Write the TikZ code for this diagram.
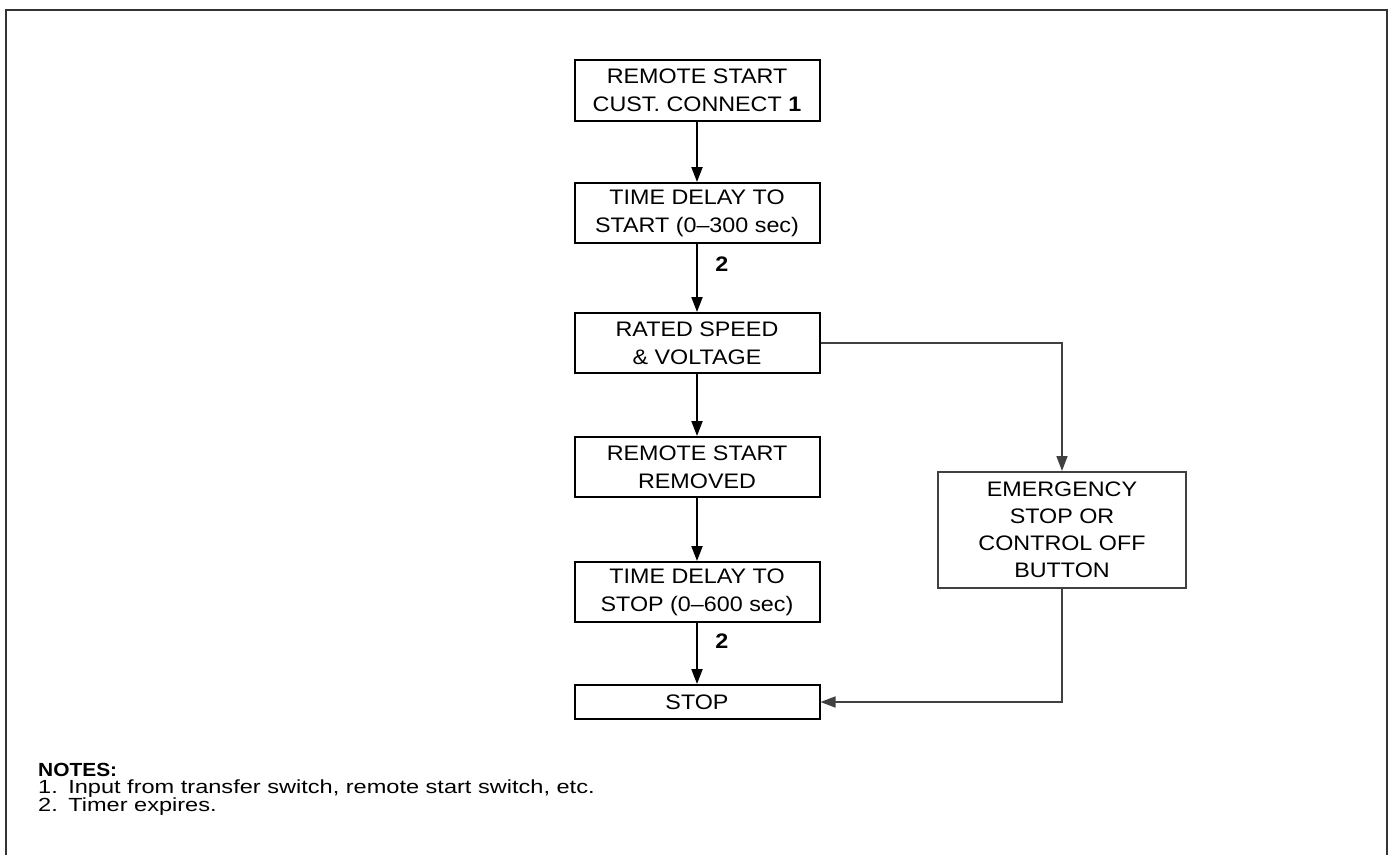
\documentclass[tikz,border=0pt]{standalone}
\usepackage{fontspec}
\setmainfont{Liberation Sans}
\newfontfamily\boxfont[FakeStretch=1.11,Ligatures=TeX]{Liberation Sans}
\newfontfamily\notefont[FakeStretch=1.24,Ligatures=TeX]{Liberation Sans}
\newfontfamily\headfont[FakeStretch=1.1,Ligatures=TeX]{Liberation Sans}
\usetikzlibrary{arrows.meta}
\begin{document}
\begin{tikzpicture}[x=1pt,y=-1pt,
  box/.style={draw=black,line width=2pt,minimum width=245pt,align=center,inner sep=0pt,font=\boxfont\fontsize{21}{28}\selectfont},
  ebox/.style={draw=black!75,line width=2pt,minimum width=248pt,minimum height=116pt,align=center,inner sep=0pt,font=\boxfont\fontsize{21}{27}\selectfont},
  flow/.style={line width=2pt,-{Triangle[length=15pt,width=11pt]}},
  side/.style={line width=1.6pt,draw=black!75,-{Triangle[length=15pt,width=11pt]}},
  lbl/.style={font=\boxfont\bfseries\fontsize{21}{24}\selectfont},
  note/.style={anchor=west,font=\notefont\fontsize{19}{22}\selectfont,inner sep=0pt}]
\useasboundingbox (0,0) rectangle (1392,855);
% frame
\draw[line width=2pt,black!80] (6,855) -- (6,10) -- (1387,10) -- (1387,855);
% main column
\node[box,minimum height=61pt] (b1) at (697,90.5) {REMOTE START\\CUST. CONNECT \textbf{1}};
\node[box,minimum height=60pt] (b2) at (697,213) {TIME DELAY TO\\START (0--300 sec)};
\node[box,minimum height=60pt] (b3) at (697,343) {RATED SPEED\\\& VOLTAGE};
\node[box,minimum height=60pt] (b4) at (697,467) {REMOTE START\\REMOVED};
\node[box,minimum height=60pt] (b5) at (697,592) {TIME DELAY TO\\STOP (0--600 sec)};
\node[box,minimum height=34pt] (b6) at (697,702) {STOP};
\node[ebox] (em) at (1062,530) {EMERGENCY\\STOP OR\\CONTROL OFF\\BUTTON};
\coordinate (c1) at (1062,343);
\coordinate (c2) at (1062,702);
\draw[flow] (b1) -- (b2);
\draw[flow] (b2) -- node[lbl,right=14pt,pos=0.3]{2} (b3);
\draw[flow] (b3) -- (b4);
\draw[flow] (b4) -- (b5);
\draw[flow] (b5) -- node[lbl,right=14pt,pos=0.3]{2} (b6);
\draw[side] (b3.east) -- (c1) -- (em.north);
\draw[side] (em.south) -- (c2) -- (b6.east);
% notes
\node[note,font=\headfont\bfseries\fontsize{19}{22}\selectfont] (n0) at (38,770) {NOTES:};
\node[note] (n1) at (38,789) {1.\hspace{0.55em}Input from transfer switch, remote start switch, etc.};
\node[note] (n2) at (38,807) {2.\hspace{0.55em}Timer expires.};
\end{tikzpicture}
\end{document}
